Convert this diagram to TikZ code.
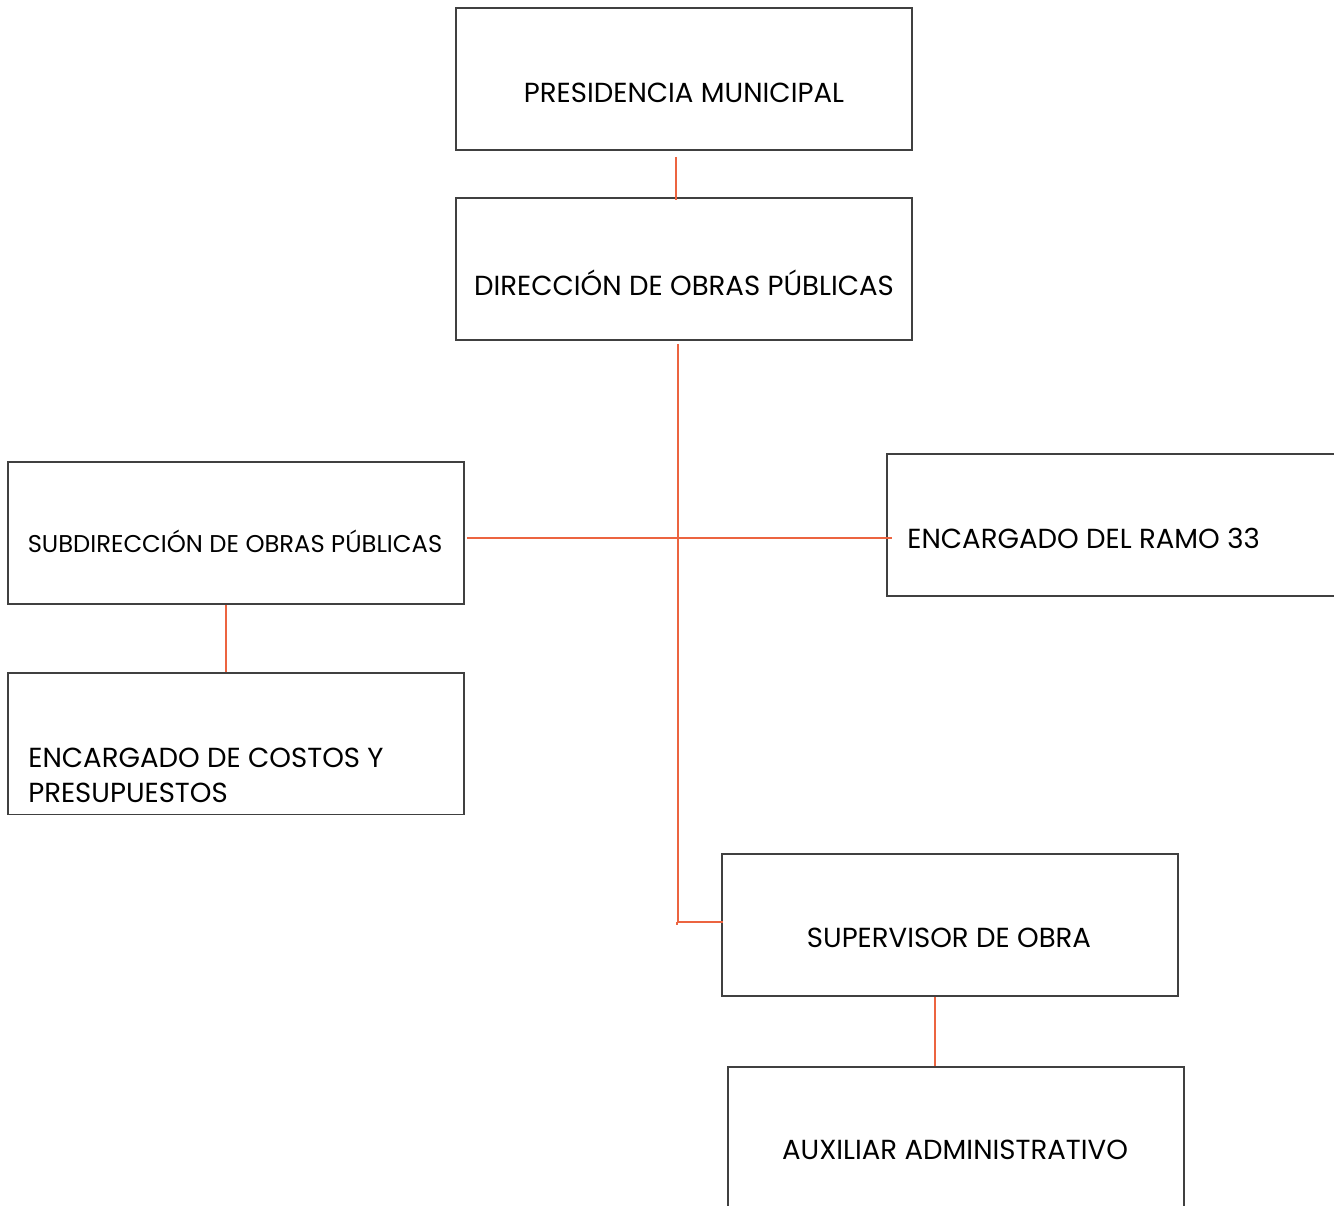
\documentclass[tikz,border=0pt]{standalone}
\usepackage{fontspec}
\setmainfont{Poppins}
\usepackage{tikz}
\usetikzlibrary{positioning,calc}
\definecolor{naranja}{HTML}{EC6440}
\definecolor{borde}{HTML}{404040}

\begin{document}
\begin{tikzpicture}[
			x = 0.02cm, y = -0.02cm,
			caja/.style = {draw=borde, line width=1.1pt, minimum width=9.12cm, minimum height=2.84cm, inner sep=0pt},
			texto/.style = {font=\fontsize{15.7}{19.8}\selectfont, text=black, inner sep=0pt},
			linea/.style = {draw=naranja, line width=0.85pt}]
			\useasboundingbox (0,0) rectangle (1334,1205);
			\clip (0,0) rectangle (1334,1205);

			% cajas
			\node[caja] (pres) at (684,79) {};
			\node[caja] (dir) at (684,269) {};
			\node[caja] (sub) at (236,533) {};
			\node[caja] (ramo) at (1115,525) {};
			\node[caja] (cost) at (236,743.5) {};
			\node[caja] (sup) at (950,925) {};
			\node[caja] (aux) at (956,1138) {};

			% textos
			\node[texto] (pres-t) at (684,93) {PRESIDENCIA MUNICIPAL};
			\node[texto] (dir-t) at (684,283) {DIRECCIÓN DE OBRAS PÚBLICAS};
			\node[texto,font=\fontsize{13.8}{16}\selectfont] (sub-t) at (235,541) {SUBDIRECCIÓN DE OBRAS PÚBLICAS};
			\node[texto,anchor=west] (ramo-t) at (907,538) {ENCARGADO DEL RAMO 33};
			\node[texto,anchor=west,align=left] (cost-t) at (28,775) {ENCARGADO DE COSTOS Y\\PRESUPUESTOS};
			\node[texto] (sup-t) at (949,938) {SUPERVISOR DE OBRA};
			\node[texto] (aux-t) at (955,1150) {AUXILIAR ADMINISTRATIVO};

			% lineas
			\draw[linea] ($(pres.south)+(-8,6)$) -- ($(dir.north)+(-8,3)$);
			\draw[linea] ($(dir.south)+(-6,3)$) |- ($(sup.west)+(2,-3)$);
			\draw[linea] ($(sup.west)+(-44,-3)$) -- ++(0,3);
			\draw[linea] ($(sub.east)+(2,5)$) -- ($(ramo.west)+(6,13)$);
			\draw[linea] ($(sub.south)+(-10,0)$) -- ($(cost.north)+(-10,0)$);
			\draw[linea] ($(sup.south)+(-15,0)$) -- ($(aux.north)+(-21,0)$);

		\end{tikzpicture}
\end{document}
